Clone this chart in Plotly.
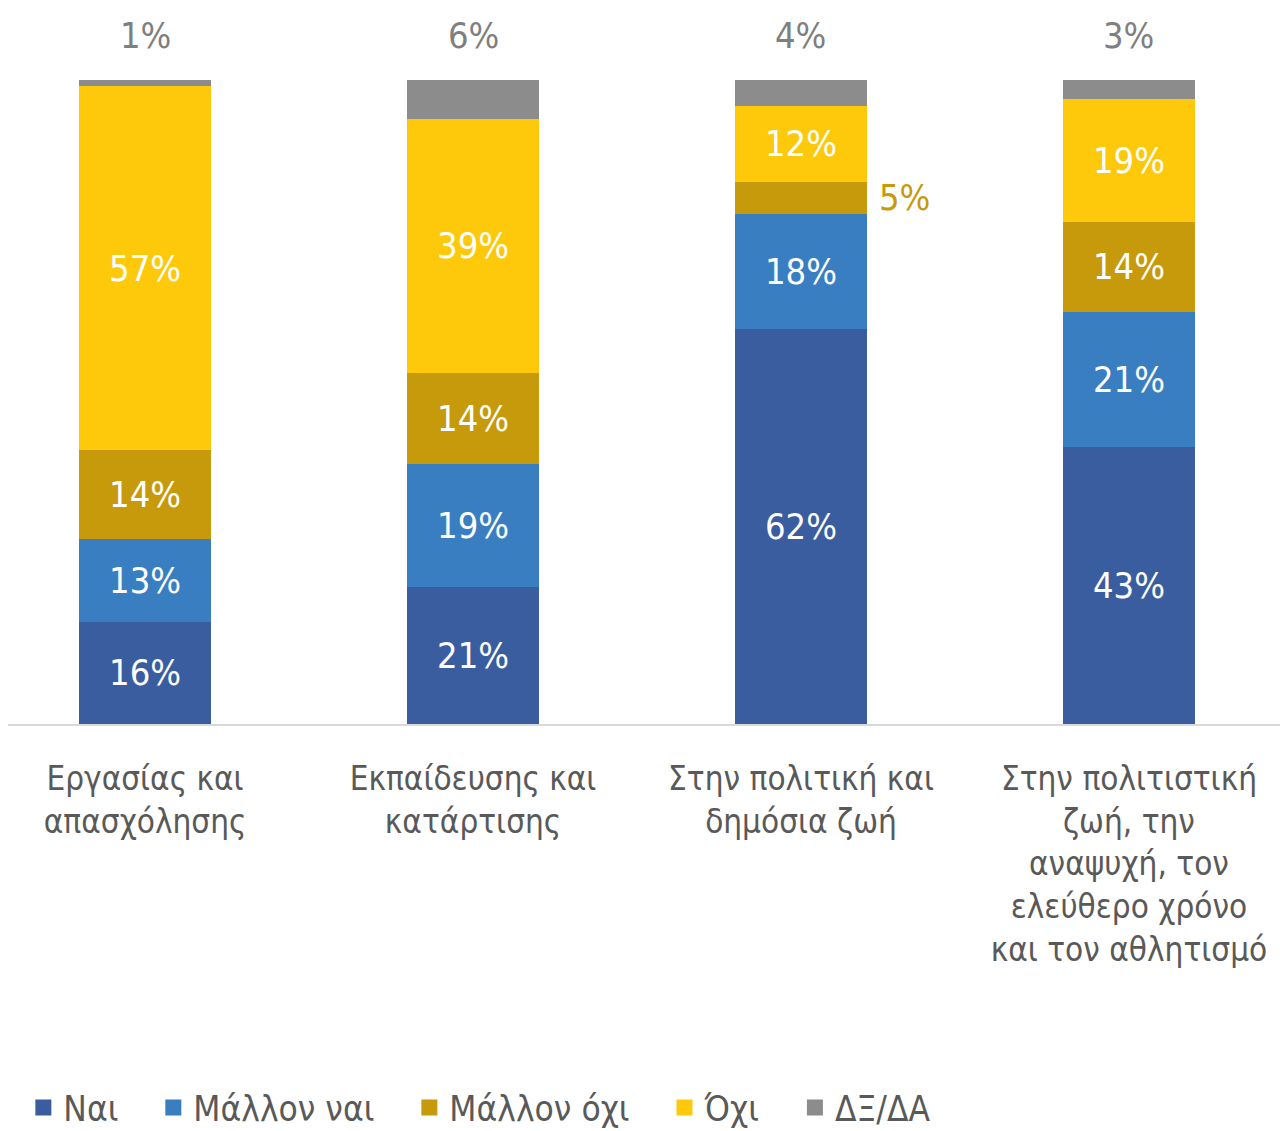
import plotly.graph_objects as go

categories = [
    "Εργασίας και<br>απασχόλησης",
    "Εκπαίδευσης και<br>κατάρτισης",
    "Στην πολιτική και<br>δημόσια ζωή",
    "Στην πολιτιστική<br>ζωή, την<br>αναψυχή, τον<br>ελεύθερο χρόνο<br>και τον αθλητισμό",
]
series_names = ["Ναι", "Μάλλον ναι", "Μάλλον όχι", "Όχι", "ΔΞ/ΔΑ"]
nai = [16, 21, 62, 43]
mallon_nai = [13, 19, 18, 21]
mallon_oxi = [14, 14, 5, 14]
oxi = [57, 39, 12, 19]
dk_na = [1, 6, 4, 3]

colors = ["#3A5DA0", "#3A7EC2", "#C69A0A", "#FFC90B", "#8C8C8C"]
FONT = "DejaVu Sans Condensed, Liberation Sans, sans-serif"
TXT = "#595959"
FS = 36
TICK_FS = 33
PAD = "\u00a0\u00a0\u00a0"

series = [nai, mallon_nai, mallon_oxi, oxi, dk_na]
totals = [sum(v) for v in zip(*series)]

fig = go.Figure()
for i, (name, vals, col) in enumerate(zip(series_names, series, colors)):
    if i == 4:
        texts = ["" for _ in vals]
    else:
        texts = [f"{v}%" if v / t * 644 >= 45 else "" for v, t in zip(vals, totals)]
    fig.add_trace(go.Bar(
        x=categories, y=vals, name=name,
        marker=dict(color=col, line=dict(width=0)),
        text=texts, texttemplate="%{text}", textposition="inside",
        insidetextanchor="middle",
        textfont=dict(color="white", size=FS, family=FONT),
        showlegend=False, hoverinfo="skip",
    ))
    fig.add_trace(go.Scatter(
        x=[None], y=[None], mode="markers",
        name=name + (PAD if i < 4 else ""),
        marker=dict(symbol="square", size=16, color=col),
        showlegend=True,
    ))

for c, v in zip(categories, dk_na):
    fig.add_annotation(x=c, y=100, text=f"{v}%", showarrow=False,
                       yanchor="bottom", yshift=22,
                       font=dict(size=FS, color="#7F7F7F", family=FONT))

cum_below = [a + b for a, b in zip(nai, mallon_nai)]
for c, v, base, t in zip(categories, mallon_oxi, cum_below, totals):
    if v / t * 644 < 45:
        fig.add_annotation(x=c, y=(base + v / 2) / t * 100, text=f"{v}%",
                           showarrow=False, xanchor="left", xshift=76,
                           font=dict(size=FS, color="#C69A0A", family=FONT))

fig.update_layout(
    barmode="stack", barnorm="percent", bargap=0.6,
    width=1280, height=1123,
    margin=dict(l=0, r=0, t=72, b=407, autoexpand=False),
    plot_bgcolor="white", paper_bgcolor="white",
    font=dict(family=FONT, size=FS, color=TXT),
    legend=dict(orientation="h", traceorder="normal",
                x=0.012, xanchor="left", y=-0.596, yanchor="middle",
                font=dict(size=35, color=TXT, family=FONT),
                itemclick=False),
    xaxis=dict(range=[-0.418, 3.485], showline=True, linecolor="#D9D9D9", linewidth=2,
               showgrid=False, zeroline=False, ticks="", tickangle=0, automargin=False,
               ticklabelstandoff=24,
               tickfont=dict(size=TICK_FS, color=TXT)),
    yaxis=dict(range=[0, 100], visible=False, showgrid=False, zeroline=False, automargin=False),
)

fig.write_html("out.html")
